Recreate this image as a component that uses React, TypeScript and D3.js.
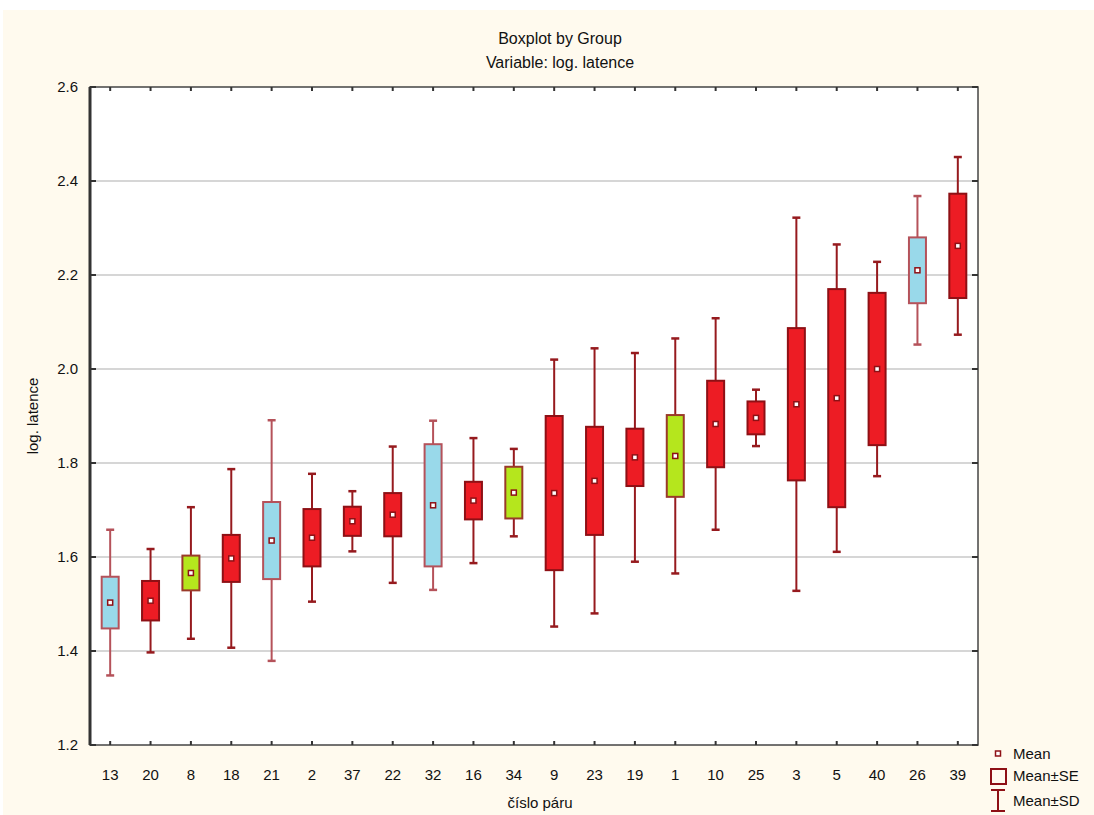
import React, { useEffect, useRef } from 'react';
import * as d3 from 'd3';

const groups = ['13', '20', '8', '18', '21', '2', '37', '22', '32', '16', '34', '9', '23', '19', '1', '10', '25', '3', '5', '40', '26', '39'];
const means = [1.503, 1.507, 1.566, 1.597, 1.635, 1.641, 1.676, 1.69, 1.71, 1.72, 1.737, 1.736, 1.762, 1.812, 1.815, 1.883, 1.896, 1.925, 1.938, 2.0, 2.21, 2.262];
const se = [0.055, 0.042, 0.037, 0.05, 0.082, 0.061, 0.031, 0.046, 0.13, 0.04, 0.055, 0.164, 0.115, 0.061, 0.087, 0.092, 0.035, 0.162, 0.232, 0.162, 0.07, 0.111];
const sd = [0.155, 0.11, 0.14, 0.19, 0.256, 0.136, 0.064, 0.145, 0.18, 0.133, 0.093, 0.284, 0.282, 0.222, 0.25, 0.225, 0.06, 0.397, 0.327, 0.228, 0.158, 0.189];
// box colour category: r = red, b = blue, g = green
const kinds = ['b', 'r', 'g', 'r', 'b', 'r', 'r', 'r', 'b', 'r', 'g', 'r', 'r', 'r', 'g', 'r', 'r', 'r', 'r', 'r', 'b', 'r'];
const yTicks = [1.2, 1.4, 1.6, 1.8, 2.0, 2.2, 2.4, 2.6];

const fills: { [k: string]: string } = { r: '#ed1c24', b: '#99d9ea', g: '#b5e61d' };
const strokes: { [k: string]: string } = { r: '#8e1015', b: '#b5525a', g: '#9a3a2a' };

const W = 1094;
const H = 815;
const margin = { top: 87, right: 116, bottom: 70, left: 90 };

const App = () => {
  const ref = useRef<SVGSVGElement>(null);

  useEffect(() => {
    const svg = d3.select(ref.current);
    svg.selectAll('*').remove();

    const font = '"Liberation Sans", Arial, sans-serif';
    const narrow = '"Liberation Sans Narrow", "Liberation Sans", Arial, sans-serif';

    svg.append('rect').attr('x', 3).attr('y', 10).attr('width', W - 3).attr('height', H - 10).attr('fill', '#fffaee');

    const x = d3.scaleBand().domain(groups).range([margin.left, W - margin.right]);
    const y = d3.scaleLinear().domain([1.2, 2.6]).range([H - margin.bottom, margin.top]);
    const bw = 17;

    const x0 = margin.left;
    const x1 = W - margin.right;
    const y0 = H - margin.bottom;
    const y1 = margin.top;

    svg.append('rect').attr('x', x0).attr('y', y1).attr('width', x1 - x0).attr('height', y0 - y1).attr('fill', '#fff');

    // gridlines
    svg
      .append('g')
      .selectAll('line')
      .data(yTicks.slice(1, -1))
      .join('line')
      .attr('x1', x0)
      .attr('x2', x1)
      .attr('y1', (d) => y(d))
      .attr('y2', (d) => y(d))
      .attr('stroke', '#d6d6d6')
      .attr('stroke-width', 2);

    // boxes
    const g = svg.append('g').selectAll('g').data(groups).join('g');
    const cx = (i: number) => (x(groups[i]) as number) + x.bandwidth() / 2;
    const wcol = (i: number) => (kinds[i] === 'b' ? '#b5525a' : '#961a1e');

    g.append('line')
      .attr('x1', (_, i) => cx(i))
      .attr('x2', (_, i) => cx(i))
      .attr('y1', (_, i) => y(means[i] + sd[i]))
      .attr('y2', (_, i) => y(means[i] - sd[i]))
      .attr('stroke', (_, i) => wcol(i))
      .attr('stroke-width', 2);

    [1, -1].forEach((s) => {
      g.append('line')
        .attr('x1', (_, i) => cx(i) - 4)
        .attr('x2', (_, i) => cx(i) + 4)
        .attr('y1', (_, i) => y(means[i] + s * sd[i]))
        .attr('y2', (_, i) => y(means[i] + s * sd[i]))
        .attr('stroke', (_, i) => wcol(i))
        .attr('stroke-width', 2.5);
    });

    g.append('rect')
      .attr('x', (_, i) => cx(i) - bw / 2)
      .attr('y', (_, i) => y(means[i] + se[i]))
      .attr('width', bw)
      .attr('height', (_, i) => y(means[i] - se[i]) - y(means[i] + se[i]))
      .attr('fill', (_, i) => fills[kinds[i]])
      .attr('stroke', (_, i) => strokes[kinds[i]])
      .attr('stroke-width', 2);

    g.append('rect')
      .attr('x', (_, i) => cx(i) - 2.5)
      .attr('y', (_, i) => y(means[i]) - 2.5)
      .attr('width', 5)
      .attr('height', 5)
      .attr('fill', '#fff')
      .attr('stroke', '#8e1015')
      .attr('stroke-width', 1.5);

    // frame
    svg.append('rect').attr('x', x0).attr('y', y1).attr('width', x1 - x0).attr('height', y0 - y1)
      .attr('fill', 'none').attr('stroke', '#444').attr('stroke-width', 1.5);
    svg.append('line').attr('x1', x0).attr('x2', x0).attr('y1', y1).attr('y2', y0).attr('stroke', '#333').attr('stroke-width', 3);

    // ticks
    const tk = svg.append('g').attr('stroke', '#333').attr('stroke-width', 2);
    yTicks.forEach((v) => {
      tk.append('line').attr('x1', x0).attr('x2', x0 + 6).attr('y1', y(v)).attr('y2', y(v));
      tk.append('line').attr('x1', x1).attr('x2', x1 - 6).attr('y1', y(v)).attr('y2', y(v));
    });
    groups.forEach((_, i) => {
      tk.append('line').attr('x1', cx(i)).attr('x2', cx(i)).attr('y1', y0).attr('y2', y0 - 4);
      tk.append('line').attr('x1', cx(i)).attr('x2', cx(i)).attr('y1', y1).attr('y2', y1 + 4);
    });

    // labels
    svg.append('g').selectAll('text').data(yTicks).join('text')
      .attr('x', x0 - 12)
      .attr('y', (d) => y(d) + 5)
      .attr('text-anchor', 'end')
      .style('font', `15px ${font}`)
      .attr('fill', '#111')
      .text((d) => d3.format('.1f')(d));

    svg.append('g').selectAll('text').data(groups).join('text')
      .attr('x', (_, i) => cx(i))
      .attr('y', y0 + 35)
      .attr('text-anchor', 'middle')
      .style('font', `15px ${font}`)
      .attr('fill', '#111')
      .text((d) => d);

    svg.append('text').attr('x', 540).attr('y', 808).attr('text-anchor', 'middle')
      .style('font', `15px ${narrow}`).attr('fill', '#111').text('číslo páru');
    svg.append('text').attr('transform', `translate(38, ${(y0 + y1) / 2}) rotate(-90)`).attr('text-anchor', 'middle')
      .style('font', `15px ${narrow}`).attr('fill', '#111').text('log. latence');

    svg.append('text').attr('x', 560).attr('y', 44).attr('text-anchor', 'middle')
      .style('font', `16px ${narrow}`).attr('fill', '#111').text('Boxplot by Group');
    svg.append('text').attr('x', 560).attr('y', 68).attr('text-anchor', 'middle')
      .style('font', `16px ${narrow}`).attr('fill', '#111').text('Variable: log. latence');

    // legend
    const lg = svg.append('g').attr('transform', 'translate(998, 0)');
    lg.append('rect').attr('x', -2.5).attr('y', 751).attr('width', 5).attr('height', 5)
      .attr('fill', '#fff').attr('stroke', '#8e1015').attr('stroke-width', 1.5);
    lg.append('rect').attr('x', -7).attr('y', 769).attr('width', 15).attr('height', 15)
      .attr('fill', 'none').attr('stroke', '#8e1015').attr('stroke-width', 2);
    lg.append('path').attr('d', 'M-7,790H7M0,790V811M-7,811H7')
      .attr('fill', 'none').attr('stroke', '#8e1015').attr('stroke-width', 2);
    [['Mean', 759], ['Mean±SE', 781], ['Mean±SD', 806]].forEach(([t, yy]) => {
      lg.append('text').attr('x', 15).attr('y', yy as number).style('font', `15px ${narrow}`).attr('fill', '#111').text(t as string);
    });
  }, []);

  return (
    <svg ref={ref} width={W} height={H} style={{ position: 'absolute', left: 0, top: 0 }} />
  );
};

export default App;
